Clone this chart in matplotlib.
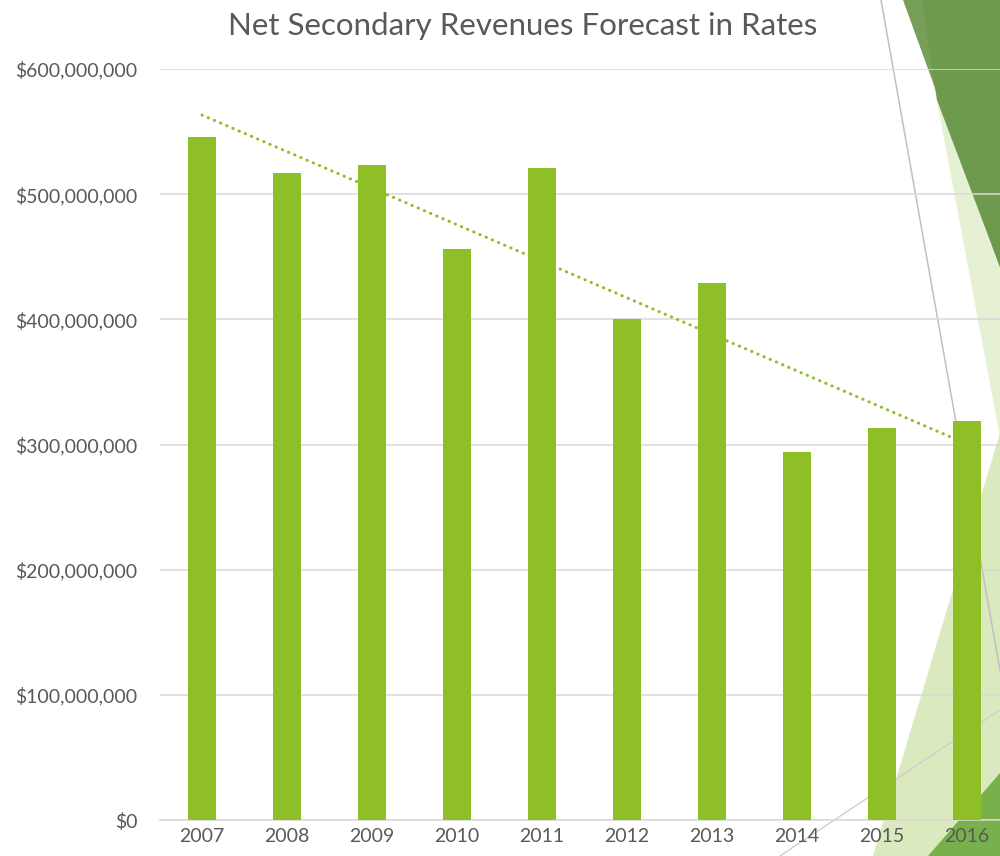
import numpy as np
import matplotlib
matplotlib.use('Agg')
import matplotlib.pyplot as plt
from matplotlib.patches import Polygon
from matplotlib.ticker import FuncFormatter

years = ['2007', '2008', '2009', '2010', '2011', '2012', '2013', '2014', '2015', '2016']
revenues = [546e6, 517e6, 523e6, 456e6, 521e6, 400e6, 429e6, 294e6, 313e6, 319e6]
title = 'Net Secondary Revenues Forecast in Rates'

bar_color = '#8fbf26'
text_color = '#595959'
grid_color = '#d9d9d9'

plt.rcParams['font.family'] = ['Lato', 'DejaVu Sans']

fig = plt.figure(figsize=(10, 8.56), dpi=100)

# background decoration (theme shapes), drawn in pixel coordinates
bg = fig.add_axes([0, 0, 1, 1], zorder=0)
bg.set_xlim(0, 1000)
bg.set_ylim(856, 0)
bg.axis('off')
bg.add_patch(Polygon([(918, 0), (1000, 0), (1000, 437)], closed=True, color='#e6f1d4', lw=0))
bg.add_patch(Polygon([(1000, 433), (1000, 856), (873, 856)], closed=True, color='#dbe9bf', lw=0))
bg.add_patch(Polygon([(903, 0), (1000, 0), (1000, 267)], closed=True, color='#76a05a', lw=0))
bg.add_patch(Polygon([(922, 0), (1000, 0), (1000, 267), (937, 100)], closed=True, color='#6d9a4c', lw=0))
bg.add_patch(Polygon([(1000, 773), (1000, 856), (928, 856)], closed=True, color='#78b04b', lw=0))
bg.plot([881, 1000], [0, 670], color='#c0c0c0', lw=1.1)
bg.plot([780, 1000], [856, 710], color='#cfcfcf', lw=1.0)

ax = fig.add_axes([0.1595, 1 - 820 / 856, 0.85, (820 - 69) / 856], zorder=1)
ax.patch.set_alpha(0)

x = np.arange(len(years))
ax.bar(x, revenues, width=0.32, color=bar_color, zorder=3)

# linear trendline
coef = np.polyfit(x, revenues, 1)
ax.plot(x, np.polyval(coef, x), color=bar_color, lw=2.2,
        linestyle=(0, (0.1, 2.1)), dash_capstyle='round', zorder=4)

ax.set_xlim(-0.5, len(years) - 0.5)
ax.set_ylim(0, 600e6)
ax.set_yticks(np.arange(0, 600e6 + 1, 100e6))
ax.yaxis.set_major_formatter(FuncFormatter(lambda v, p: '${:,.0f}'.format(v)))
ax.set_xticks(x)
ax.set_xticklabels(years)

ax.grid(axis='y', color=grid_color, lw=1.1, zorder=0)
ax.set_axisbelow(True)
for s in ['top', 'right', 'left']:
    ax.spines[s].set_visible(False)
ax.spines['bottom'].set_color(grid_color)
ax.spines['bottom'].set_linewidth(1.1)
ax.tick_params(axis='y', length=0, pad=16, labelsize=14, labelcolor=text_color)
ax.tick_params(axis='x', length=0, pad=6, labelsize=14, labelcolor=text_color)

fig.text(0.5225, 1 - 26 / 856, title, ha='center', va='center',
         fontsize=22.5, color=text_color)

fig.savefig('out.png', dpi=100)
